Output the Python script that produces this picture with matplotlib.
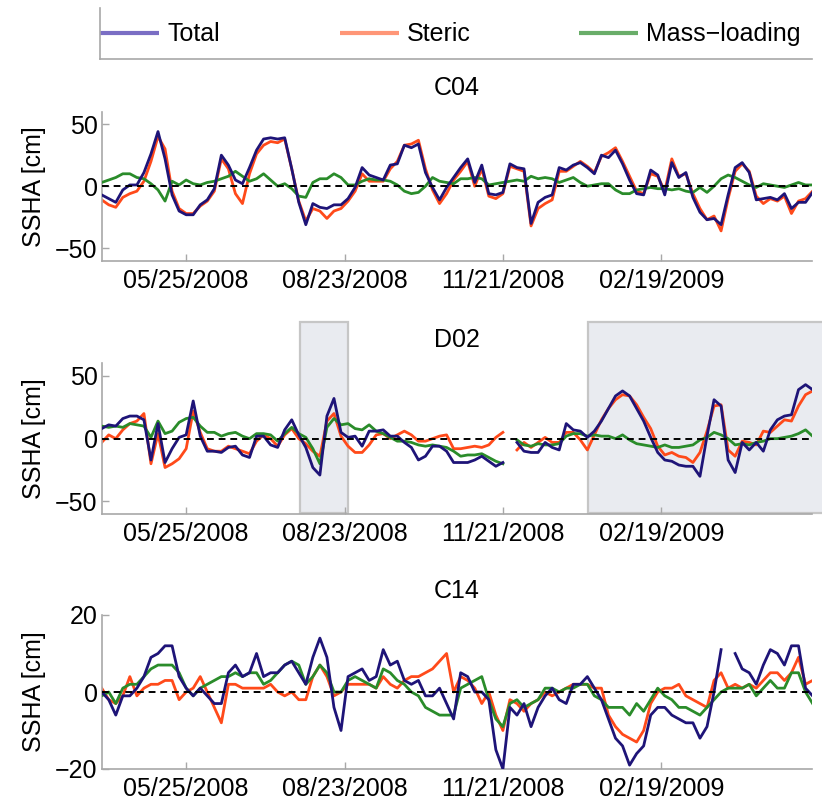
import numpy as np
import pandas as pd
import matplotlib
matplotlib.use('Agg')
import matplotlib.pyplot as plt
import matplotlib.dates as mdates
from matplotlib.patches import Rectangle

plt.rcParams['font.family'] = ['Liberation Sans', 'DejaVu Sans']

nan = np.nan
dates = pd.date_range('2008-04-07', periods=102, freq='4D')

c04_total = [-7, -10, -13, -3, 1, 1, 11, 26, 44, 22, -7, -20, -23, -23, -15, -11, -2, 25, 17, 5, 2, 15, 29, 38, 39, 38,
             39, 14, -13, -31, -14, -17, -18, -15, -15, -10, -1, 15, 9, 7, 5, 17, 18, 33, 31, 34, 11, -1, -11, -1, 7,
             15, 22, 3, 17, -6, -7, -5, 18, 15, 14, -30, -13, -9, -7, 15, 13, 17, 19, 15, 10, 25, 23, 29, 18, 5, -6,
             -7, 13, 9, -7, 19, 7, 11, -9, -21, -27, -26, -31, -7, 15, 19, 11, -11, -10, -9, -11, -6, -18, -13, -13, -5]
c04_steric = [-11, -15, -17, -9, -6, -4, 4, 20, 40, 30, -4, -18, -22, -22, -16, -12, -4, 22, 14, -6, -14, 10, 26, 33, 36,
              35, 38, 14, -12, -28, -18, -20, -26, -20, -18, -12, -4, 10, 4, 4, 4, 14, 20, 33, 34, 37, 14, -3, -14, -6, 5,
              12, 20, 0, 14, -8, -10, -6, 16, 14, 12, -32, -18, -14, -11, 12, 12, 16, 20, 16, 11, 24, 27, 31, 20, 8, -4,
              -6, 10, 8, -4, 22, 8, 10, -6, -18, -27, -24, -36, -10, 12, 18, 12, -8, -14, -10, -12, -8, -22, -12, -10, -4]
c04_mass = [3, 5, 7, 10, 10, 7, 6, 2, -3, -12, 4, 1, 5, 2, 1, 3, 4, 6, 8, 12, 8, 4, 6, 10, 5, 0, 2, -2, -8, -9, 3, 6, 6,
            10, 7, 1, 1, 4, 6, 5, 5, 4, 1, -4, -6, -5, 0, 7, 4, 3, 2,
            6, 6, 7, 6, 1, 2, 3, 4, 5, 4, 8, 6, 7, 6, 3, 5, 7, 3, 0, 1, 2, 2, -3, -6, -6, -3, -2, -1, -2, -2, -3, -2,
            -4, -5, -1, -5, 0, 6, 9, 7, 4, 1, -1, 2, 1, 0, -1, 1, 3, 1, 1]

d02_total = [8, 11, 10, 16, 18, 18, 15, -17, 12, -19, -8, 1, 3, 30, 2, -10, -10, -11, -7, -6, -13, -15, 2, 2, -5, -7, 7,
             15, 3, -7, -23, -29, 18, 32, 5, 1, 2, -6, 6, 6, 7, 2, 2, -3, -7, -17, -14, -6, -6, -10, -19,
             -19, -19, -17, -14, -18, -22, -19, nan, -3, -10, -11, -11, -3, -7, -9, 12, 7, 6, 1, 6, 14, 24, 34, 38, 34,
             24, 14, 1, -11, -17, -18, -21, -22, -22, -30, 2, 31, 26, -17, -27, -3, -9, -3, -10, 7, 15, 18, 19, 39, 43, 39]
d02_steric = [-3, 3, 0, 7, 12, 14, 20, -20, 4, -23, -20, -16, -8, 22, 5, -8, -10, -10, -6, -8, -10, -12, -2, 3, 0, -6, 3,
              8, 0, -4, -10, -14, 14, 20, 2, -6, -11, -11, -5, 3, 4, 0, 3, 6, 3, -2, -2, 0, 2, 3, -8,
              -8, -7, -6, -7, -5, 1, 5, nan, -9, -3, -7, -3, 1, -3, -3, 5, 5, -1, -9, 3, 15, 24, 31, 35, 34, 27, 17, 8,
              -6, -13, -11, -14, -15, -19, -11, 6, 26, 27, -9, -14, -2, -3, -5, 6, 5, 10, 15, 14, 26, 35, 38]
d02_mass = [10, 9, 10, 9, 12, 11, 10, 1, 14, 4, 6, 13, 16, 17, 10, 5, 5, 2, 4, 5, 2, 0, 4, 4, 3, -2, 4, 9, 4, 1, -8, -20,
            9, 16, 11, 12, 8, 7, 11, 6, 4, 1, -2, -2, -3, -5, -6, -5, -6, -7, -10,
            -14, -13, -13, -12, -15, -18, -20, nan, -1, -5, -6, -4, -5, -5, -4, 2, 4, 4, 2, 3, 2, 2, 0, 3, -1, -4, -5,
            -6, -7, -5, -7, -7, -6, -5, -1, 1, 5, 3, 0, -5, -4, -5, -3, -2, 0, 0, 1, 2, 4, 7, 2]

c14_total = [0, -2, -6, -1, -1, 1, 4, 9, 10, 12, 12, 4, 1, -1, 1, -1, -3, -3, 5, 7, 4, 5, 10, 4, 5, 5, 7, 8, 5, 2, 9, 14,
             9, -4, -10, 4, 5, 6, 3, 4, 11, 7, 8, 3, 2, 3, -1, -1, 1, -3, -7,
             5, 4, 0, 0, -2, -15, -20, -4, -6, -3, -9, -4, -1, 1, -2, -3, 2, 2, 4, 1, -2, -7, -12, -14, -19, -16, -14,
             -6, -4, -4, -6, -7, -8, -8, -12, -9, 0, 11, nan, 10, 6, 5, 2, 7, 11, 10, 7, 12, 12, 1, -1]
c14_steric = [1, -2, -3, -1, 4, -1, 1, 2, 2, 3, 3, -2, 0, 1, 4, 0, -4, -8, 2, 2, 1, 1, 1, 1, 2, 0, -1, 0, -2, -2, 4, 7, 4,
              -1, 0, 2, 2, 2, 2, 1, 4, 2, 1, 3, 4, 4, 5, 6, 8, 10, 0,
              4, 3, 1, -3, 0, -6, -10, -2, -3, -5, -3, -2, 0, -1, 0, 1, 2, 2, 2, 1, 1, -6, -9, -11, -12, -13, -10, -3,
              0, 1, 1, 2, -1, -2, -3, -4, 3, 5, 1, 2, 1, 2, 1, 3, 5, 5, 3, 5, 9, 2, 3]
c14_mass = [-1, 0, -3, 1, 2, 2, 4, 6, 7, 7, 7, 5, 1, -1, 1, 2, 3, 4, 4, 5, 4, 5, 5, 2, 3, 5, 7, 8, 7, 2, 4, 7, 5, 0, 0, 3,
            4, 3, 2, 1, 6, 5, 3, 2, 0, -1, -4, -5, -6, -6, -6,
            1, 2, 3, 4, -2, -7, -9, -3, -2, -4, -3, -2, 1, 1, 0, 1, 1, 2, 2, -1, -2, -4, -4, -4, -6, -3, -5, -2, 1, -1,
            -2, -4, -4, -5, -6, -4, -2, 0, 1, 1, 1, 2, -1, 1, 3, 1, 1, 5, 5, 0, -3]

panels = [
    ('C04', c04_total, c04_steric, c04_mass, (-60, 60), [-50, 0, 50]),
    ('D02', d02_total, d02_steric, d02_mass, (-60, 60), [-50, 0, 50]),
    ('C14', c14_total, c14_steric, c14_mass, (-20, 20), [-20, 0, 20]),
]
tick_dates = pd.to_datetime(['2008-05-25', '2008-08-23', '2008-11-21', '2009-02-19'])
xlim = (pd.Timestamp('2008-04-07'), pd.Timestamp('2009-05-15 12:00'))

col_total = '#1e1478'
col_steric = '#ff4a1a'
col_mass = '#2a8c2a'
spine_col = '#a8a8a8'
FS = 18
LW = 2.0

fig = plt.figure(figsize=(8.22, 8.01), dpi=100)

# legend strip
axl = fig.add_axes([100 / 822, 1 - 59 / 801, 712 / 822, 51 / 801])
axl.set_xlim(0, 712)
axl.set_ylim(0, 51)
for s in ['top', 'right']:
    axl.spines[s].set_visible(False)
for s in ['left', 'bottom']:
    axl.spines[s].set_color(spine_col)
    axl.spines[s].set_linewidth(1.2)
axl.set_xticks([])
axl.set_yticks([])
leg_items = [('Total', '#7a6ec4', 0), ('Steric', '#ff9677', 240), ('Mass\u2212loading', '#69ad69', 479)]
for name, c, x0 in leg_items:
    axl.plot([x0, x0 + 59], [26, 26], color=c, lw=3, solid_capstyle='butt')
    axl.text(x0 + 67, 25, name, fontsize=FS, va='center', ha='left')

positions = [
    [101.7 / 822, 1 - 260.7 / 801, 710 / 822, 149 / 801],
    [101.7 / 822, 1 - 514 / 801, 710 / 822, 150.7 / 801],
    [101.7 / 822, 1 - 769 / 801, 710 / 822, 154 / 801],
]

for pos, (name, tot, ste, mas, ylim, yt) in zip(positions, panels):
    ax = fig.add_axes(pos)
    ax.plot(dates, ste, color=col_steric, lw=LW, zorder=2)
    ax.plot(dates, mas, color=col_mass, lw=LW, zorder=3)
    ax.plot(dates, tot, color=col_total, lw=LW, zorder=4)
    ax.axhline(0, color='k', lw=1.4, ls=(0, (3.5, 2.5)), zorder=5)
    ax.set_xlim(xlim)
    ax.set_ylim(ylim)
    ax.set_yticks(yt)
    ax.set_xticks(tick_dates)
    ax.xaxis.set_major_formatter(mdates.DateFormatter('%m/%d/%Y'))
    for s in ['top', 'right']:
        ax.spines[s].set_visible(False)
    for s in ['left', 'bottom']:
        ax.spines[s].set_color(spine_col)
        ax.spines[s].set_linewidth(1.2)
    ax.tick_params(direction='in', length=5, width=1, color=spine_col, labelsize=FS)
    ax.tick_params(axis='x', pad=6)
    ax.tick_params(axis='y', pad=3)
    ax.set_ylabel('SSHA [cm]', fontsize=FS)
    ax.yaxis.set_label_coords(-0.078, 0.5)
    ax.set_title(name, fontsize=FS, pad=12)
    if name == 'D02':
        boxes = [(pd.Timestamp('2008-07-28 17:00'), pd.Timestamp('2008-08-25 05:00')),
                 (pd.Timestamp('2009-01-08 07:00'), pd.Timestamp('2009-07-01'))]
        for a, b in boxes:
            x0 = mdates.date2num(a)
            x1 = mdates.date2num(b)
            r = Rectangle((x0, -59.5), x1 - x0, 152, facecolor='#e9ebf0', edgecolor='#c6c6c6',
                          lw=1.6, clip_on=False, zorder=0.5)
            ax.add_patch(r)

fig.savefig('out.png', dpi=100)
